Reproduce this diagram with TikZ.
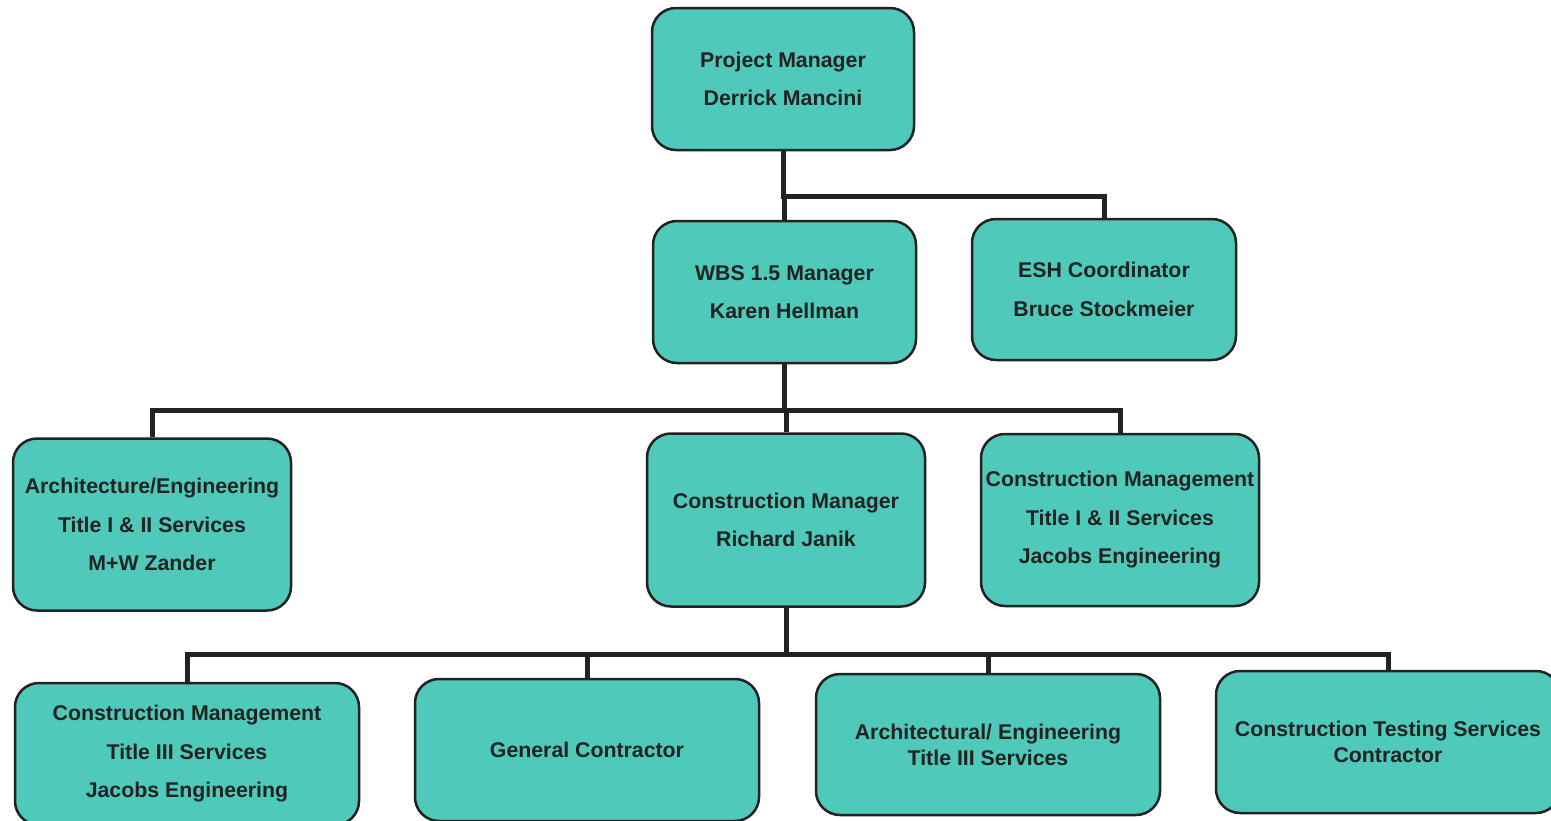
\documentclass[tikz,border=0pt]{standalone}
\usepackage{fontspec}
\setmainfont{Liberation Sans}
\definecolor{tealbox}{RGB}{78,201,186}
\definecolor{ink}{RGB}{34,34,34}
\tikzset{
  box/.style={draw=ink, line width=2.5pt, fill=tealbox, rounded corners=24pt,
    align=center, text=ink, inner sep=0pt,
    font=\bfseries\fontsize{21.3}{38.5}\selectfont},
  tight/.style={font=\bfseries\fontsize{21.3}{26}\selectfont},
  conn/.style={draw=ink, line width=5pt}
}
\begin{document}
\begin{tikzpicture}[x=1pt,y=-1pt]
\useasboundingbox (0,0) rectangle (1551,820);
\fill[white] (0,0) rectangle (1551,820);
\coordinate (b1) at (783,196);
\coordinate (b2) at (785,410);
\coordinate (b3) at (787,654);
% nodes
\node[box, minimum width=262pt, minimum height=142pt] (pm) at (783,79) {Project Manager\\Derrick Mancini};
\node[box, minimum width=263pt, minimum height=142pt] (wbs) at (784.5,292) {WBS 1.5 Manager\\Karen Hellman};
\node[box, minimum width=264pt, minimum height=141pt] (esh) at (1104,289.5) {ESH Coordinator\\Bruce Stockmeier};
\node[box, minimum width=278pt, minimum height=172pt] (ae) at (152,524.5) {Architecture/Engineering\\Title I \& II Services\\M+W Zander};
\node[box, minimum width=278pt, minimum height=173pt] (cm) at (786,520) {Construction Manager\\Richard Janik};
\node[box, minimum width=278pt, minimum height=172pt] (cmt) at (1120,520) {Construction Management\\Title I \& II Services\\Jacobs Engineering};
\node[box, minimum width=344pt, minimum height=142pt] (cm3) at (187,754) {Construction Management\\Title III Services\\Jacobs Engineering};
\node[box, minimum width=344pt, minimum height=142pt] (gc) at (587,750) {General Contractor};
\node[box, tight, minimum width=344pt, minimum height=141pt] (ae3) at (988,744.5) {Architectural/ Engineering\\Title III Services};
\node[box, tight, minimum width=344pt, minimum height=142pt] (cts) at (1388,742) {Construction Testing Services\\Contractor};
% connectors
\draw[conn] (pm.south) -- (b1) -| (esh.north);
\draw[conn] (wbs.north) -- (wbs.north |- b1);
\draw[conn] (wbs.south) -- (wbs.south |- b2);
\draw[conn] (ae.north) |- (b2) -| (cmt.north);
\draw[conn] (cm.north) -- (cm.north |- b2);
\draw[conn] (cm.south) -- (cm.south |- b3);
\draw[conn] (cm3.north) |- (b3) -| (cts.north);
\draw[conn] (gc.north) -- (gc.north |- b3);
\draw[conn] (ae3.north) -- (ae3.north |- b3);
\end{tikzpicture}
\end{document}
